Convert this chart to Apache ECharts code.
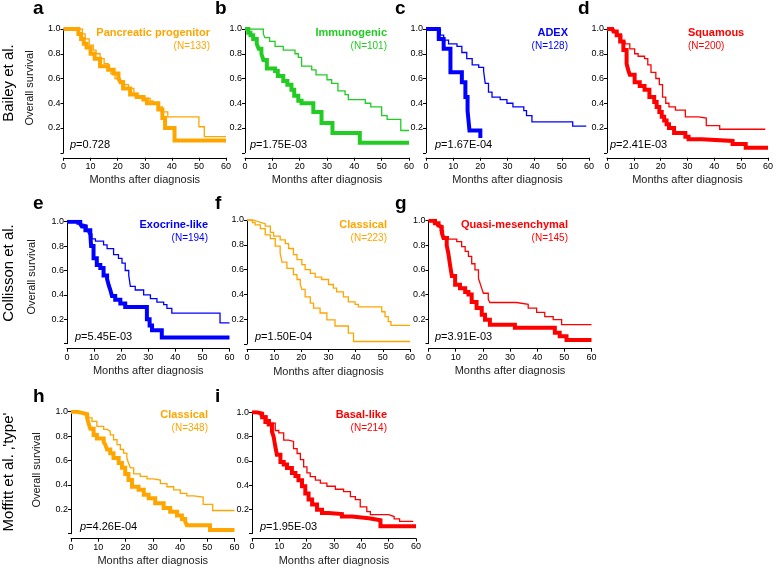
<!DOCTYPE html>
<html><head><meta charset="utf-8">
<script src="https://cdn.jsdelivr.net/npm/echarts@6/dist/echarts.min.js"></script>
<style>html,body{margin:0;padding:0;background:#fff}#c{width:776px;height:570px}</style>
</head><body><div id="c"></div>
<script>
// ---------- data ----------
const xTicks = [0, 10, 20, 30, 40, 50, 60];
const yTicks = [0, 0.2, 0.4, 0.6, 0.8, 1.0];
const panelLetters = ['a','b','c','d','e','f','g','h','i'];
const groupNames = ['Pancreatic progenitor','Immunogenic','ADEX','Squamous','Exocrine-like','Classical','Quasi-mesenchymal','Classical','Basal-like'];
const groupN = ['(N=133)','(N=101)','(N=128)','(N=200)','(N=194)','(N=223)','(N=145)','(N=348)','(N=214)'];
const pValues = ['0.728','1.75E-03','1.67E-04','2.41E-03','5.45E-03','1.50E-04','3.91E-03','4.26E-04','1.95E-03'];
const rowLabels = ['Bailey et al.','Collisson et al.',"Moffitt et al. \u201A'type'"];
const xTitle = 'Months after diagnosis';
const yTitle = 'Overall survival';

// survival curves: [month, survival]
const aThick = [[0,1],[5.5,0.96],[6.5,0.92],[7.5,0.88],[8.5,0.85],[10,0.8],[11.5,0.76],[13.5,0.70],[16.5,0.67],[18.5,0.64],[20.3,0.60],[21,0.57],[22,0.52],[24.6,0.47],[27,0.45],[29.5,0.43],[30.8,0.40],[35,0.35],[36.5,0.28],[37.5,0.20],[41,0.10],[60,0.10]];
const aThin = [[0,1],[7,0.96],[8,0.92],[9.5,0.87],[11,0.83],[12,0.80],[13.5,0.76],[15,0.72],[16.5,0.68],[17.5,0.64],[19,0.60],[21,0.58],[22.5,0.55],[24,0.52],[26,0.48],[27.5,0.46],[30,0.44],[32,0.42],[33,0.40],[35,0.37],[36.5,0.33],[38.5,0.29],[50,0.21],[52,0.13],[60,0.13]];
const bThick = [[0,1],[1.2,0.97],[2,0.95],[3,0.92],[4.3,0.88],[5,0.84],[6,0.80],[6.7,0.75],[8,0.68],[11,0.66],[12,0.62],[14,0.58],[15.5,0.55],[17,0.51],[18,0.46],[19.5,0.42],[20.7,0.40],[25,0.33],[28,0.24],[32,0.16],[42,0.08],[60,0.08]];
const bThin = [[0,1],[6.7,0.96],[7.3,0.93],[9,0.90],[11,0.86],[14,0.83],[18.3,0.80],[19.5,0.77],[20.7,0.70],[24.4,0.67],[26,0.63],[30,0.59],[31.7,0.56],[34,0.50],[36.6,0.47],[37.8,0.43],[44,0.40],[46,0.37],[50,0.30],[52,0.27],[57,0.18],[60,0.18]];
const cThick = [[0,1],[4.7,0.92],[6.5,0.84],[9,0.65],[13.2,0.57],[14.5,0.45],[15.3,0.34],[16,0.18],[20,0.12]];
const cThin = [[0,1],[5.3,0.95],[6.5,0.91],[8.3,0.88],[11.4,0.86],[13.2,0.81],[15,0.76],[17,0.71],[19.4,0.69],[21.2,0.66],[21.8,0.56],[23,0.49],[24.3,0.45],[27.3,0.43],[29.8,0.40],[32,0.37],[36,0.34],[37,0.30],[39,0.25],[54,0.215],[59,0.215]];
const dThick = [[0,1],[2,0.99],[2.4,0.98],[3.6,0.95],[4.9,0.90],[6.1,0.83],[7.3,0.72],[7.9,0.67],[8.5,0.63],[10.3,0.57],[12.2,0.54],[14,0.51],[15.8,0.45],[17.6,0.41],[18.5,0.37],[19.5,0.33],[20.4,0.29],[21.3,0.26],[22.2,0.23],[23.1,0.20],[25,0.16],[29.2,0.13],[30.4,0.11],[35.3,0.095],[46.8,0.07],[51.7,0.04],[60,0.04]];
const dThin = [[0,1],[2.5,0.98],[4,0.95],[5.5,0.90],[6.7,0.88],[8.5,0.84],[10.3,0.80],[11.6,0.78],[14,0.76],[15.2,0.71],[16.4,0.65],[18.2,0.60],[19.5,0.55],[20.7,0.45],[21.9,0.40],[23.1,0.37],[25.5,0.345],[29.2,0.29],[34,0.28],[37,0.22],[42,0.19],[59,0.19]];
const eThick = [[0,1],[4.9,0.98],[5.5,0.96],[6.8,0.93],[8.6,0.90],[8.9,0.80],[9.8,0.70],[11,0.645],[12.3,0.62],[13.5,0.56],[14.8,0.53],[15.4,0.48],[16,0.44],[16.6,0.39],[17.8,0.36],[19.7,0.33],[21.5,0.30],[29.5,0.20],[30.5,0.15],[31.4,0.11],[35,0.05],[60,0.05]];
const eThin = [[0,1],[3.7,0.98],[6,0.97],[7.4,0.93],[8,0.90],[9.2,0.86],[10.5,0.84],[13.5,0.81],[14.8,0.78],[17.2,0.73],[19,0.70],[20.3,0.66],[21.5,0.60],[22.8,0.56],[23.4,0.47],[25.2,0.44],[28.3,0.40],[30.8,0.37],[33.2,0.34],[35.7,0.32],[36.9,0.29],[38.7,0.25],[56.5,0.17],[60,0.17]];
const fUpper = [[0,1],[2.4,0.99],[3.7,0.98],[4.9,0.97],[6.7,0.95],[8.6,0.90],[9.8,0.87],[12.2,0.84],[14.1,0.81],[15.3,0.77],[17.1,0.72],[18.4,0.68],[20.2,0.64],[21.4,0.60],[23.3,0.57],[25.1,0.54],[27.5,0.52],[30,0.48],[31.8,0.45],[33,0.42],[35.5,0.38],[37.3,0.34],[39.8,0.32],[41,0.30],[49.6,0.26],[50.8,0.22],[52,0.18],[53,0.15],[60,0.15]];
const fLower = [[0,1],[2,0.98],[3,0.96],[4.9,0.93],[6.7,0.88],[8.6,0.85],[10.4,0.79],[12.2,0.73],[12.9,0.66],[14.7,0.61],[17.1,0.56],[18.4,0.52],[19.6,0.48],[20.2,0.44],[21.4,0.38],[23.3,0.33],[24.5,0.29],[26.9,0.25],[29.4,0.195],[32.4,0.145],[37.3,0.087],[39.2,0.02],[60,0.02]];
const gThick = [[0,1],[2.4,0.98],[3.7,0.96],[4.3,0.95],[4.9,0.90],[5.5,0.86],[6.7,0.80],[7.3,0.735],[8,0.63],[8.6,0.55],[9.8,0.48],[11.6,0.45],[13.5,0.42],[14.7,0.40],[15.9,0.34],[17.7,0.29],[19.6,0.235],[20.8,0.195],[22.6,0.155],[31.8,0.13],[46.5,0.09],[48.3,0.06],[50.8,0.03],[60,0.03]];
const gThin = [[0,1],[1.8,0.98],[3,0.96],[4.3,0.92],[5.5,0.87],[7.3,0.85],[10.4,0.83],[12.2,0.79],[13.5,0.75],[14.7,0.71],[15.9,0.65],[17.1,0.60],[18.4,0.53],[19,0.49],[19.6,0.45],[20.2,0.41],[22,0.36],[22.6,0.335],[32.4,0.32],[36.7,0.29],[39.8,0.255],[42.8,0.22],[45.9,0.195],[49,0.155],[60,0.155]];
const hThick = [[0,1],[2.2,0.99],[4,0.98],[5.9,0.95],[6.5,0.90],[7.1,0.86],[8.3,0.81],[9.5,0.78],[12,0.75],[12.6,0.73],[13.2,0.69],[14.4,0.66],[15.6,0.62],[17.5,0.58],[18.7,0.54],[19.9,0.49],[21.1,0.44],[22.4,0.385],[24.8,0.36],[26.7,0.32],[28.5,0.29],[30.9,0.25],[34,0.21],[36.4,0.18],[38.9,0.15],[40.7,0.12],[41.9,0.10],[42.5,0.07],[51,0.03],[60,0.03]];
const hThin = [[0,1],[2.5,0.99],[5.3,0.97],[6.5,0.95],[7.7,0.92],[9.5,0.88],[12,0.855],[13.2,0.84],[14.4,0.81],[15.6,0.77],[16.9,0.73],[18.1,0.69],[19.3,0.66],[20.5,0.62],[21.1,0.58],[21.8,0.54],[23,0.49],[25.4,0.47],[27.9,0.45],[30.3,0.44],[32.8,0.41],[35.2,0.385],[37.7,0.36],[40.1,0.33],[42.5,0.31],[45,0.30],[48.5,0.24],[52,0.19],[60,0.19]];
const iThick = [[0,1],[1.8,0.99],[3.7,0.96],[4.9,0.92],[6.1,0.90],[7.3,0.84],[7.9,0.80],[8.5,0.72],[9.1,0.65],[10.4,0.59],[11.6,0.57],[12.8,0.54],[14.6,0.50],[15.9,0.475],[17,0.44],[18.3,0.39],[19.5,0.33],[20.7,0.28],[22,0.24],[23.8,0.195],[25.6,0.17],[28,0.16],[32.9,0.14],[36.6,0.125],[42.7,0.11],[47,0.06],[60,0.06]];
const iThin = [[0,1],[3,0.97],[5.5,0.94],[6.7,0.91],[8.5,0.85],[9.8,0.83],[11.6,0.77],[13.4,0.76],[15.2,0.70],[16.5,0.66],[17.7,0.61],[18.9,0.55],[20.1,0.50],[21.3,0.47],[23.2,0.44],[25,0.415],[27.4,0.39],[30.5,0.365],[33.5,0.345],[36,0.305],[37.8,0.28],[39.6,0.22],[42,0.18],[43.3,0.155],[50,0.14],[52,0.12],[54,0.10],[59,0.10]];

const curves = [[aThick,aThin],[bThick,bThin],[cThick,cThin],[dThick,dThin],[eThick,eThin],[fLower,fUpper],[gThick,gThin],[hThick,hThin],[iThick,iThin]];

// ---------- layout / style ----------
const ORANGE = '#FFA500', GREEN = '#22CC22', BLUE = '#0000FF', RED = '#FF0000';
const FONT = 'Liberation Sans, Arial, Helvetica, sans-serif';
const layout = [
  {l:63.5, t:29,    w:162.5, h:123.75, c:ORANGE, lw:[4,1.3], tx:210, ty:33, ta:'right', px:70,  py:145, lx:33,  ly:8.5},
  {l:245,  t:29,    w:164,   h:123.75, c:GREEN,  lw:[4,1.3], tx:387, ty:33, ta:'right', px:250, py:145, lx:215, ly:8.5},
  {l:426,  t:29,    w:163,   h:123.75, c:BLUE,   lw:[4,1.3], tx:568, ty:33, ta:'right', px:435, py:145, lx:395, ly:8.5},
  {l:607,  t:29,    w:164,   h:123.75, c:RED,    lw:[4,1.3], tx:688, ty:33, ta:'left',  px:610, py:145, lx:578, ly:8.5},
  {l:67,   t:221.7, w:162.5, h:122,    c:BLUE,   lw:[4,1.3], tx:208, ty:225, ta:'right', px:75,  py:337, lx:33,  ly:203.5},
  {l:247,  t:220,   w:163,   h:124,    c:ORANGE, lw:[1.3,1.3], tx:387, ty:225, ta:'right', px:255, py:337, lx:215, ly:203.5},
  {l:428.5,t:220.7, w:163,   h:123,    c:RED,    lw:[4,1.3], tx:568, ty:225, ta:'right', px:435, py:337, lx:395, ly:203.5},
  {l:71,   t:411.7, w:163.5, h:122,    c:ORANGE, lw:[4,1.3], tx:208, ty:415, ta:'right', px:80,  py:527, lx:33,  ly:396.5},
  {l:252,  t:412.3, w:164,   h:121.2,  c:RED,    lw:[4,1.3], tx:387, ty:415, ta:'right', px:260, py:527, lx:215, ly:396.5}
];
const rowLabelPos = [[9,83],[9,273],[9,472]];
const yTitlePos = [[30,88],[32,277],[37,470]];

const grids = [], xAxes = [], yAxes = [], series = [], graphics = [];
layout.forEach((p, i) => {
  grids.push({left:p.l, top:p.t, width:p.w, height:p.h});
  xAxes.push({
    type:'value', gridIndex:i, min:xTicks[0], max:xTicks[xTicks.length-1], interval:xTicks[1]-xTicks[0],
    offset:5,
    axisLine:{show:true, onZero:false, lineStyle:{color:'#000', width:1}},
    axisTick:{show:true, length:3, lineStyle:{color:'#000', width:1}},
    axisLabel:{fontSize:9, color:'#000', margin:4, fontFamily:FONT},
    splitLine:{show:false},
    name:xTitle, nameLocation:'middle', nameGap:17,
    nameTextStyle:{fontSize:11, color:'#222', fontFamily:FONT}
  });
  yAxes.push({
    type:'value', gridIndex:i, min:yTicks[0], max:yTicks[yTicks.length-1], interval:yTicks[1]-yTicks[0],
    axisLine:{show:true, lineStyle:{color:'#000', width:1}},
    axisTick:{show:true, length:3, lineStyle:{color:'#000', width:1}},
    axisLabel:{fontSize:9, color:'#000', margin:3, fontFamily:FONT,
      formatter: v => v === 0 ? '' : v.toFixed(1)},
    splitLine:{show:false}
  });
  curves[i].forEach((d, k) => {
    series.push({
      type:'line', xAxisIndex:i, yAxisIndex:i, data:d, step:'end',
      showSymbol:false, symbol:'none', silent:true, animation:false,
      lineStyle:{color:p.c, width:p.lw[k], join:'miter', cap:'butt'},
      z: k === 0 ? 2 : 3
    });
  });
  // texts
  graphics.push({type:'text', x:p.lx, y:p.ly, style:{text:panelLetters[i], font:'bold 19px '+FONT, fill:'#000', textAlign:'left', textVerticalAlign:'middle', align:'left', verticalAlign:'middle'}});
  graphics.push({type:'text', x:p.tx, y:p.ty, style:{text:groupNames[i], font:'bold 11px '+FONT, fill:p.c, textAlign:p.ta, textVerticalAlign:'middle', align:p.ta, verticalAlign:'middle'}});
  graphics.push({type:'text', x:p.tx, y:p.ty+13, style:{text:groupN[i], font:'10px '+FONT, fill:p.c, textAlign:p.ta, textVerticalAlign:'middle', align:p.ta, verticalAlign:'middle'}});
  graphics.push({type:'text', x:p.px, y:p.py, style:{text:'{i|p}=' + pValues[i], font:'11px '+FONT, fontSize:11, fontFamily:FONT, fill:'#000',
    textAlign:'left', textVerticalAlign:'middle', align:'left', verticalAlign:'middle',
    rich:{i:{fontStyle:'italic', fontSize:11, fontFamily:FONT, fill:'#000'}}}});
});
rowLabels.forEach((t, r) => {
  graphics.push({type:'text', x:rowLabelPos[r][0], y:rowLabelPos[r][1], rotation:Math.PI/2,
    style:{text:t, font:'15px '+FONT, fill:'#000', textAlign:'center', textVerticalAlign:'middle', align:'center', verticalAlign:'middle'}});
  graphics.push({type:'text', x:yTitlePos[r][0], y:yTitlePos[r][1], rotation:Math.PI/2,
    style:{text:yTitle, font:'11px '+FONT, fill:'#111', textAlign:'center', textVerticalAlign:'middle', align:'center', verticalAlign:'middle'}});
});

const chart = echarts.init(document.getElementById('c'), null, {renderer:'canvas', width:776, height:570});
chart.setOption({
  animation:false,
  backgroundColor:'#fff',
  grid:grids, xAxis:xAxes, yAxis:yAxes, series:series, graphic:graphics
});
</script></body></html>
